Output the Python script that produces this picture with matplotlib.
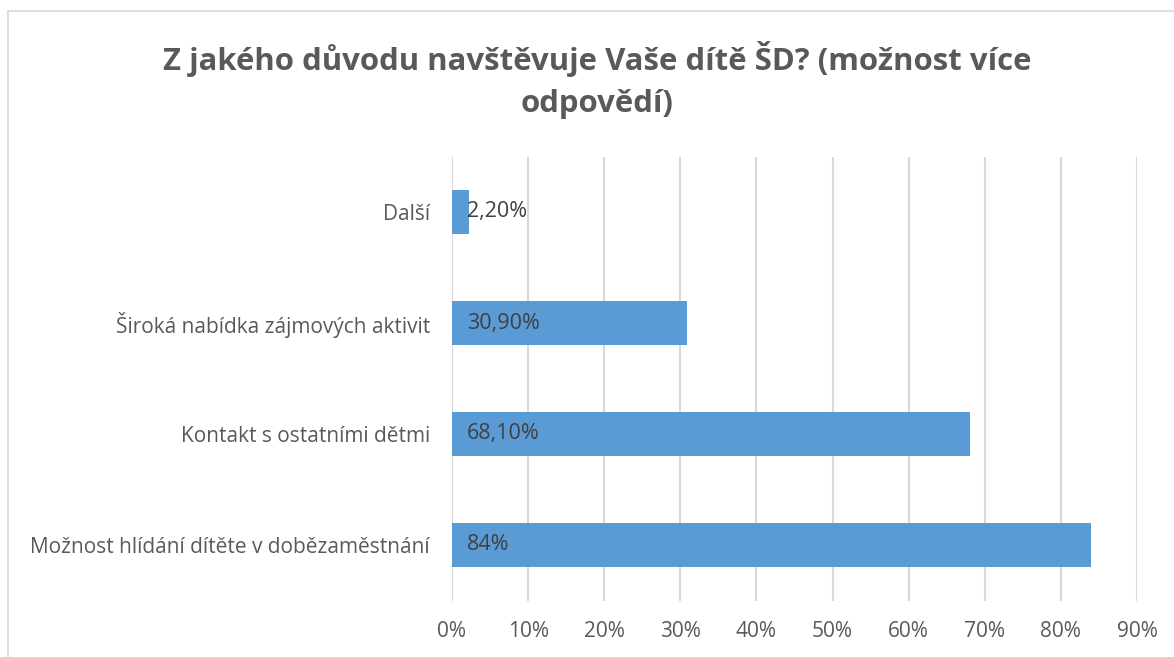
import matplotlib

matplotlib.use("Agg")
import matplotlib.pyplot as plt
from matplotlib.patches import Rectangle

categories = ["Možnost hlídání dítěte v dobězaměstnání", "Kontakt s ostatními dětmi",
              "Široká nabídka zájmových aktivit", "Další"]
values = [84.0, 68.1, 30.9, 2.2]
value_labels = ["84%", "68,10%", "30,90%", "2,20%"]
x_ticks = [0, 10, 20, 30, 40, 50, 60, 70, 80, 90]
title = "Z jakého důvodu navštěvuje Vaše dítě ŠD? (možnost více\nodpovědí)"

plt.rcParams["font.family"] = ["Open Sans", "DejaVu Sans"]

W, H = 1174, 657
fig = plt.figure(figsize=(W / 100, H / 100), dpi=100)
ax = fig.add_axes([452 / W, (H - 600.5) / H, (1137 - 452) / W, (600.5 - 156.5) / H])

# chart border (cut off on right and bottom like the source)
fig.patches.append(Rectangle((8 / W, -0.1), 1.2, (H - 11) / H + 0.1, transform=fig.transFigure,
                             fill=False, edgecolor="#D9D9D9", linewidth=1.2))

ypos = list(range(len(categories)))
ax.barh(ypos, values, height=0.4, color="#5B9BD5", zorder=3)

for y, lab in zip(ypos, value_labels):
    ax.annotate(lab, (0, y), xytext=(15, 0), textcoords="offset pixels",
                ha="left", va="center", fontsize=15.5, color="#404040", zorder=4)

ax.set_xlim(0, 90)
ax.set_ylim(-0.5, len(categories) - 0.5)
ax.set_xticks(x_ticks)
ax.set_xticklabels(["{}%".format(t) for t in x_ticks])
ax.set_yticks(ypos)
ax.set_yticklabels(categories)
ax.tick_params(axis="both", length=0, labelsize=15, colors="#595959")
ax.tick_params(axis="x", pad=15)
ax.tick_params(axis="y", pad=16)
ax.grid(axis="x", color="#D9D9D9", linewidth=1.5, zorder=0)
for s in ax.spines.values():
    s.set_visible(False)

fig.text(597 / W, 1 - 80 / H, title, ha="center", va="center", fontsize=22.4, fontweight="bold",
         color="#595959", linespacing=1.5)

fig.savefig("out.png", dpi=100)
